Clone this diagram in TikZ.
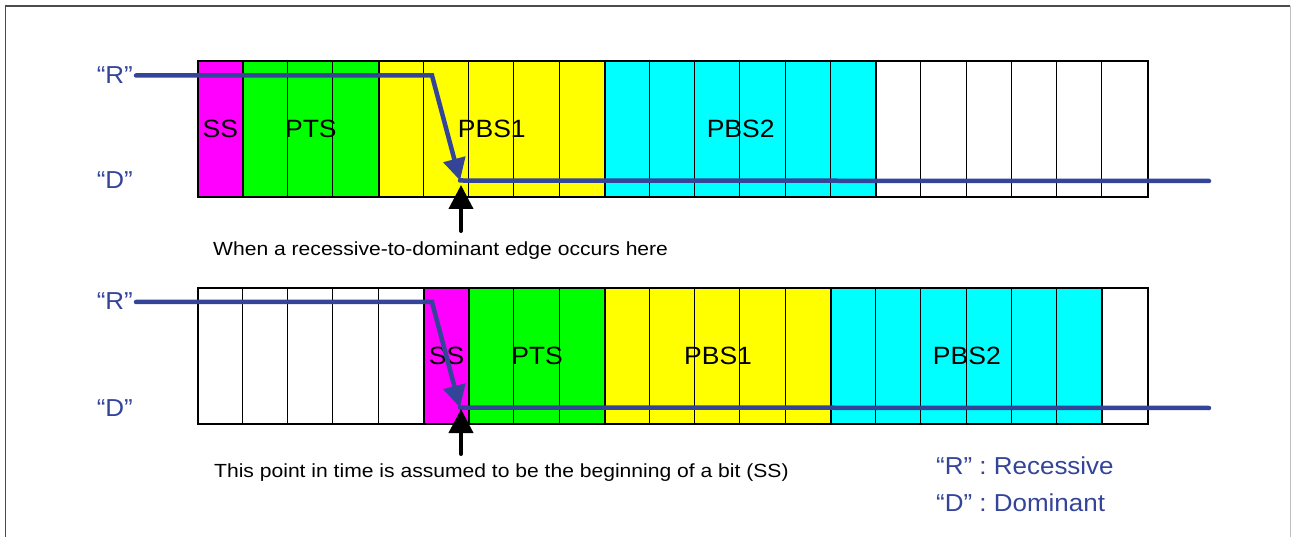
\documentclass[tikz,border=0pt]{standalone}
\usepackage{fontspec}
\setmainfont{Liberation Sans}
\newfontfamily\capfont[FakeStretch=1.11]{Liberation Sans}
\newfontfamily\lblfont[FakeStretch=1.06]{Liberation Sans}
\usetikzlibrary{arrows.meta}
\definecolor{sigblue}{RGB}{51,68,153}
\definecolor{cmag}{RGB}{255,0,255}
\definecolor{cgrn}{RGB}{0,255,0}
\definecolor{cyel}{RGB}{255,255,0}
\definecolor{ccya}{RGB}{0,255,255}
\begin{document}
\begin{tikzpicture}[x=1pt,y=-1pt,
  seg/.style={draw=black,line width=1.6pt,minimum height=136pt,inner sep=0pt,
    anchor=north west,font=\lblfont\fontsize{25}{25}\selectfont},
  cellline/.style={draw=black,line width=0.8pt},
  qlabel/.style={text=sigblue,inner sep=0pt,font=\lblfont\fontsize{24.5}{24.5}\selectfont},
  captxt/.style={text=black,inner sep=0pt,font=\capfont\fontsize{19}{19}\selectfont},
  sig/.style={draw=sigblue,line width=4.5pt,line cap=round,line join=miter},
  blk/.style={draw=black,line width=4pt,line cap=round},
  frame/.style={draw=black!70,line width=1.2pt}]
\useasboundingbox (0,0) rectangle (1291,537);
\def\w{45.238}
% frame
\draw[frame] (5.5,537) -- (5.5,6) -- (1290,6);
\draw[draw=black!25,line width=1pt] (1290,6) -- (1290,537);
% ---------- top row ----------
\node[seg,fill=cmag,minimum width={1*\w pt}] (t1) at (197,60) {SS};
\node[seg,fill=cgrn,minimum width={3*\w pt}] (t2) at (197+1*\w,60) {PTS};
\node[seg,fill=cyel,minimum width={5*\w pt}] (t3) at (197+4*\w,60) {PBS1};
\node[seg,fill=ccya,minimum width={6*\w pt}] (t4) at (197+9*\w,60) {PBS2};
\node[seg,fill=white,minimum width={6*\w pt}] (t5) at (197+15*\w,60) {};
\foreach \i in {1,...,20} \draw[cellline] (197+\i*\w,60) -- (197+\i*\w,196);
% ---------- bottom row ----------
\node[seg,fill=white,minimum width={5*\w pt}] (u0) at (197,287) {};
\node[seg,fill=cmag,minimum width={1*\w pt}] (u1) at (197+5*\w,287) {SS};
\node[seg,fill=cgrn,minimum width={3*\w pt}] (u2) at (197+6*\w,287) {PTS};
\node[seg,fill=cyel,minimum width={5*\w pt}] (u3) at (197+9*\w,287) {PBS1};
\node[seg,fill=ccya,minimum width={6*\w pt}] (u4) at (197+14*\w,287) {PBS2};
\node[seg,fill=white,minimum width={1*\w pt}] (u5) at (197+20*\w,287) {};
\foreach \i in {1,...,20} \draw[cellline] (197+\i*\w,287) -- (197+\i*\w,423);
% ---------- level labels ----------
\node[qlabel,anchor=base east] (r1) at (133,84) {“R”};
\node[qlabel,anchor=base east] (d1) at (133,189) {“D”};
\node[qlabel,anchor=base east] (r2) at (133,310) {“R”};
\node[qlabel,anchor=base east] (d2) at (133,416) {“D”};
% ---------- signals ----------
\coordinate (a0) at (136,75.5);
\coordinate (a1) at (432,75.5);
\coordinate (a2) at (460,180.5);
\coordinate (a3) at (1209,181);
\draw[sig,-{Triangle[length=22pt,width=22pt]}] (a0) -- (a1) -- (a2);
\draw[sig] (a2) -- (a3);
\coordinate (s0) at (136,302);
\coordinate (s1) at (432,302);
\coordinate (s2) at (460,407.5);
\coordinate (s3) at (1209,408);
\draw[sig,-{Triangle[length=22pt,width=22pt]}] (s0) -- (s1) -- (s2);
\draw[sig] (s2) -- (s3);
% ---------- black arrows ----------
\coordinate (b0) at (461,231);
\coordinate (b1) at (461,185);
\draw[blk,-{Triangle[length=24pt,width=24pt]}] (b0) -- (b1);
\coordinate (c0) at (461,454);
\coordinate (c1) at (461,409);
\draw[blk,-{Triangle[length=24pt,width=24pt]}] (c0) -- (c1);
% ---------- captions ----------
\node[captxt,anchor=base west] (cap1) at (213,256) {When a recessive-to-dominant edge occurs here};
\node[captxt,anchor=base west] (cap2) at (214,477) {This point in time is assumed to be the beginning of a bit (SS)};
% ---------- legend ----------
\node[qlabel,anchor=base west] (lr) at (936,474) {“R” : Recessive};
\node[qlabel,anchor=base west] (ld) at (936,511) {“D” : Dominant};
\end{tikzpicture}
\end{document}
